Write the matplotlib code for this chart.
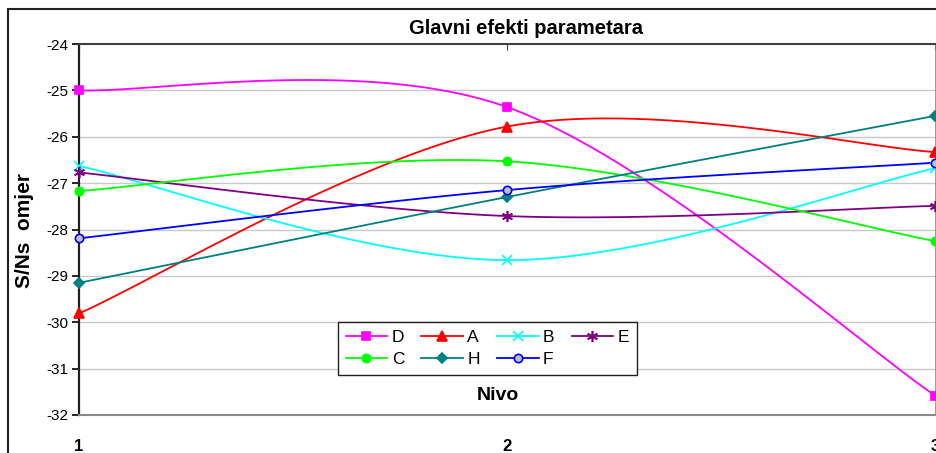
import numpy as np
import matplotlib.pyplot as plt
from matplotlib.patches import Rectangle
from matplotlib.lines import Line2D

plt.rcParams['font.family'] = ['Liberation Sans', 'DejaVu Sans']
plt.rcParams['axes.unicode_minus'] = False

# S/N omjer po nivoima za svaki parametar
levels = [1, 2, 3]
names = ['D', 'A', 'B', 'E', 'C', 'H', 'F']
sn_D = [-25.00, -25.36, -31.58]
sn_A = [-29.81, -25.78, -26.33]
sn_B = [-26.63, -28.66, -26.68]
sn_E = [-26.77, -27.71, -27.49]
sn_C = [-27.17, -26.53, -28.25]
sn_H = [-29.15, -27.30, -25.55]
sn_F = [-28.19, -27.15, -26.56]

series = [sn_D, sn_A, sn_B, sn_E, sn_C, sn_H, sn_F]
colors = ['#ff00ff', '#ff0000', '#00ffff', '#800080', '#00ff00', '#008080', '#0000ff']
markers = ['s', '^', 'x', (6, 2, 0), 'o', 'D', 'o']
msizes = [6, 7, 7, 8, 6, 5, 6]
faces = ['#ff00ff', '#ff0000', '#00ffff', '#800080', '#00ff00', '#008080', '#c0c0c0']


def smooth(x, y, n=60):
    # glatka linija kroz tocke (bezier, kao "smoothed line" u Excelu)
    x = np.asarray(x, float)
    y = np.asarray(y, float)
    px = np.concatenate([[x[0]], x, [x[-1]]])
    py = np.concatenate([[y[0]], y, [y[-1]]])
    t = np.linspace(0, 1, n)
    xs, ys = [], []
    for i in range(len(x) - 1):
        p0 = np.array([px[i + 1], py[i + 1]])
        p3 = np.array([px[i + 2], py[i + 2]])
        c1 = p0 + (p3 - np.array([px[i], py[i]])) / 6
        c2 = p3 - (np.array([px[i + 3], py[i + 3]]) - p0) / 6
        b = ((1 - t) ** 3)[:, None] * p0 + (3 * (1 - t) ** 2 * t)[:, None] * c1 \
            + (3 * (1 - t) * t ** 2)[:, None] * c2 + (t ** 3)[:, None] * p3
        xs.append(b[:, 0])
        ys.append(b[:, 1])
    return np.concatenate(xs), np.concatenate(ys)


W, H = 937, 453
fig = plt.figure(figsize=(W / 100, H / 100), dpi=100)
ax = fig.add_axes([79 / W, 1 - 415 / H, (936 - 79) / W, (415 - 44) / H])

# okvir grafikona
fig.patches.append(Rectangle((8 / W, -0.05), 1.1, 1 - 9 / H + 0.05, transform=fig.transFigure,
                             fill=False, edgecolor='#202020', linewidth=1.5, zorder=0))

for yv in range(-31, -24):
    ax.axhline(yv, color='#c8c8c8', linewidth=1, zorder=0)

handles = []
for vals, name, col, mk, ms, fc in zip(series, names, colors, markers, msizes, faces):
    sx, sy = smooth(levels, vals)
    ax.plot(sx, sy, color=col, linewidth=1.3, zorder=2)
    ax.plot(levels, vals, linestyle='none', marker=mk, markersize=ms, color=col,
            markerfacecolor=fc, markeredgecolor=col, markeredgewidth=1.2,
            clip_on=False, zorder=3)
    handles.append(Line2D([], [], color=col, linewidth=1.3, marker=mk, markersize=ms,
                          markerfacecolor=fc, markeredgecolor=col, markeredgewidth=1.2, label=name))

ax.set_xlim(1, 3.0023)
ax.set_ylim(-32, -24)
ax.set_yticks(range(-32, -23))
ax.set_xticks(levels)
ax.set_xticklabels(['1', '2', '3'], fontsize=12, fontweight='bold')
ax.tick_params(axis='x', bottom=False, top=True, direction='in', length=4, pad=17,
               labelbottom=True, color='#404040')
ax.tick_params(axis='y', direction='out', length=5, width=1.2, labelsize=11, pad=3)

ax.spines['left'].set_color('#202020')
ax.spines['left'].set_linewidth(1.6)
ax.spines['top'].set_color('#404040')
ax.spines['top'].set_linewidth(1.5)
ax.spines['bottom'].set_color('#8a8a8a')
ax.spines['bottom'].set_linewidth(1.5)
ax.spines['right'].set_color('#8a8a8a')
ax.spines['right'].set_linewidth(1.2)

fig.text(526 / W, 1 - 28 / H, 'Glavni efekti parametara', ha='center', va='center',
         fontsize=14.5, fontweight='bold')
fig.text(25 / W, 1 - 231 / H, 'S/Ns  omjer', ha='center', va='center', rotation=90,
         fontsize=15, fontweight='bold')
fig.text(498 / W, 1 - 395 / H, 'Nivo', ha='center', va='center', fontsize=14, fontweight='bold')

# redoslijed po stupcima da legenda ide D A B E / C H F
order = [0, 4, 1, 5, 2, 6, 3]
leg = ax.legend([handles[i] for i in order], [names[i] for i in order], ncol=4,
                loc='lower left', bbox_to_anchor=(0.302, 0.108, 0.349, 0.143), mode='expand',
                fontsize=12.5, frameon=True, fancybox=False, framealpha=1,
                handlelength=2.4, handletextpad=0.25, borderpad=0.45, labelspacing=0.4,
                columnspacing=0.8, borderaxespad=0)
leg.get_frame().set_edgecolor('#202020')
leg.get_frame().set_linewidth(1.0)
leg.set_zorder(5)

fig.savefig('out.png', dpi=100)
